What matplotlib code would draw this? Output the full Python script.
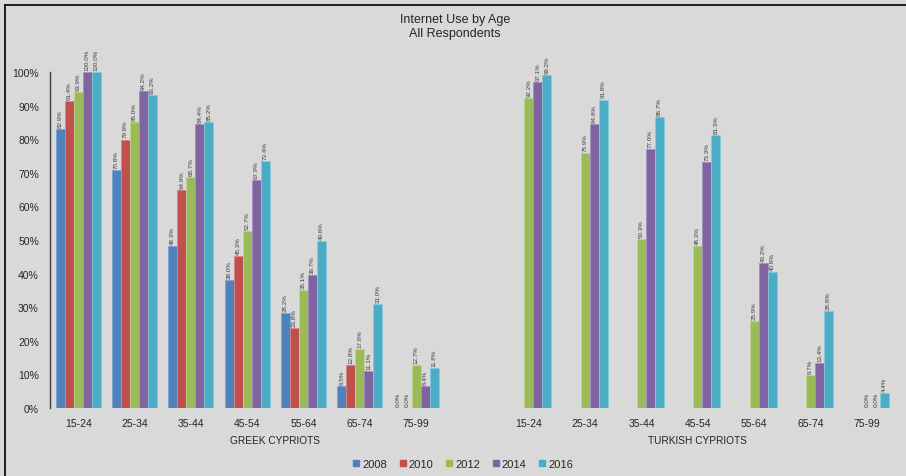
import numpy as np
import matplotlib
matplotlib.use('Agg')
import matplotlib.pyplot as plt
from matplotlib.lines import Line2D

plt.rcParams['font.family'] = ['Liberation Sans', 'DejaVu Sans']

# ---------------------------------------------------------------------------
# Theme
# ---------------------------------------------------------------------------
BG_COLOR = '#D9D9D9'
TEXT_COLOR = '#262626'
LABEL_COLOR = '#404040'
SERIES_COLORS = ['#4F81BD', '#C0504D', '#9BBB59', '#8064A2', '#4BACC6']
EDGE_COLORS = ['#7FA3D3', '#D98684', '#BCD48E', '#A590C2', '#86CBDD']

# ---------------------------------------------------------------------------
# Data: share of respondents using the internet (%), None = not surveyed
# ---------------------------------------------------------------------------
AGE_GROUPS = ['15-24', '25-34', '35-44', '45-54', '55-64', '65-74', '75-99']
YEARS = ['2008', '2010', '2012', '2014', '2016']
COMMUNITIES = ['GREEK CYPRIOTS', 'TURKISH CYPRIOTS']

GREEK_2008 = [82.9, 70.8, 48.3, 38.0, 28.2, 6.5, 0.0]
GREEK_2010 = [91.4, 79.9, 64.9, 45.3, 23.8, 12.8, 0.0]
GREEK_2012 = [93.9, 85.0, 68.7, 52.7, 35.1, 17.6, 12.7]
GREEK_2014 = [100.0, 94.2, 84.4, 67.9, 39.7, 11.1, 6.4]
GREEK_2016 = [100.0, 93.2, 85.2, 73.4, 49.6, 31.0, 11.8]

TURKISH_2008 = [None, None, None, None, None, None, None]
TURKISH_2010 = [None, None, None, None, None, None, None]
TURKISH_2012 = [92.2, 75.9, 50.3, 48.3, 25.9, 9.7, 0.0]
TURKISH_2014 = [97.1, 84.6, 77.0, 73.3, 43.2, 13.4, 0.0]
TURKISH_2016 = [99.2, 91.8, 86.7, 81.3, 40.6, 28.8, 4.4]

greek = [GREEK_2008, GREEK_2010, GREEK_2012, GREEK_2014, GREEK_2016]
turkish = [TURKISH_2008, TURKISH_2010, TURKISH_2012, TURKISH_2014, TURKISH_2016]

# Greek groups on 0..6, an empty slot at 7, Turkish groups on 8..14
n_groups = len(AGE_GROUPS)
greek_x = np.arange(n_groups)
turkish_x = np.arange(n_groups) + n_groups + 1

fig = plt.figure(figsize=(9.06, 4.77), dpi=100)
fig.patch.set_facecolor(BG_COLOR)
ax = fig.add_axes([50 / 906, 68 / 477, 845 / 906, 336 / 477])
ax.set_facecolor(BG_COLOR)

bar_w = 0.16
for i, year in enumerate(YEARS):
    offset = (i - 2) * bar_w
    for xs, series in ((greek_x, greek[i]), (turkish_x, turkish[i])):
        for x, v in zip(xs, series):
            if v is None:
                continue
            ax.bar(x + offset, v, width=bar_w, color=SERIES_COLORS[i],
                   edgecolor=EDGE_COLORS[i], linewidth=0.6)
            ax.annotate(f'{v:.1f}%', (x + offset, v), xytext=(0, 1.5),
                        textcoords='offset points', rotation=90,
                        ha='center', va='bottom', fontsize=4.5,
                        color=LABEL_COLOR, annotation_clip=False)

ax.set_xlim(-0.5, 2 * n_groups + 0.5)
ax.set_ylim(0, 100)
ax.set_yticks(np.arange(0, 101, 10))
ax.set_yticklabels([f'{t}%' for t in range(0, 101, 10)])
ax.set_xticks(np.concatenate([greek_x, turkish_x]))
ax.set_xticklabels(AGE_GROUPS + AGE_GROUPS)
ax.tick_params(axis='y', length=0, pad=8, labelsize=7.5, labelcolor=TEXT_COLOR)
ax.tick_params(axis='x', length=0, pad=7, labelsize=7.5, labelcolor=TEXT_COLOR)

for side in ('top', 'right', 'bottom'):
    ax.spines[side].set_visible(False)
ax.spines['left'].set_color('#3A3A3A')
ax.spines['left'].set_linewidth(1.0)

# Community labels under each block of age groups
blended = ax.get_xaxis_transform()
ax.text((greek_x[0] - 0.5 + turkish_x[0] - 0.5) / 2, -0.095, COMMUNITIES[0],
        transform=blended, ha='center', va='center', fontsize=7.3, color=TEXT_COLOR)
ax.text((turkish_x[0] - 0.5 + turkish_x[-1] + 0.5) / 2, -0.095, COMMUNITIES[1],
        transform=blended, ha='center', va='center', fontsize=7.3, color=TEXT_COLOR)

# Title
fig.text(455 / 906, 1 - 27 / 477, 'Internet Use by Age\nAll Respondents',
         ha='center', va='center', fontsize=9, linespacing=1.15, color=TEXT_COLOR)

# Legend
handles = [Line2D([], [], marker='s', linestyle='none', markersize=5,
                  markerfacecolor=c, markeredgecolor=c) for c in SERIES_COLORS]
fig.legend(handles, YEARS, loc='center', bbox_to_anchor=(462 / 906, 1 - 465 / 477),
           ncol=5, frameon=False, fontsize=8, handletextpad=0.05,
           columnspacing=0.9, handlelength=1.0, labelcolor=TEXT_COLOR)

# Frame lines along the left and top edges
fig.add_artist(Line2D([5 / 906, 5 / 906], [0, 1 - 6 / 477], transform=fig.transFigure,
                      color='black', linewidth=1.2))
fig.add_artist(Line2D([5 / 906, 1], [1 - 6 / 477, 1 - 6 / 477], transform=fig.transFigure,
                      color='black', linewidth=1.2))

fig.savefig('out.png', dpi=100, facecolor=BG_COLOR)
